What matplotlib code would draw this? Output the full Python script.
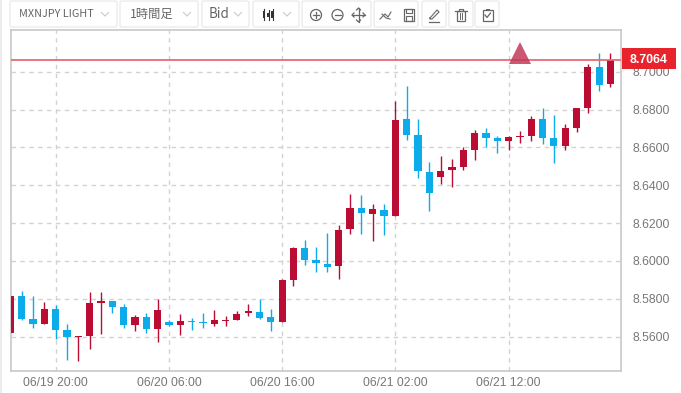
import matplotlib
matplotlib.use('Agg')
import matplotlib.pyplot as plt
from matplotlib.patches import FancyBboxPatch, Rectangle, Circle

# candle values (06/19 16:00 onwards, hourly)
opens = [8.5618, 8.5816, 8.5695, 8.5667, 8.5746, 8.5633, 8.5597, 8.5602, 8.5778, 8.5786,
         8.5755, 8.5663, 8.5705, 8.5638, 8.5679, 8.5661, 8.5685, 8.5676, 8.5665, 8.5683,
         8.5690, 8.5725, 8.5732, 8.5702, 8.5677, 8.5898, 8.6068, 8.6005, 8.5986, 8.5972,
         8.6167, 8.6282, 8.6249, 8.6270, 8.6239, 8.6749, 8.6665, 8.6469, 8.6444, 8.6480,
         8.6497, 8.6586, 8.6678, 8.6650, 8.6632, 8.6655, 8.6660, 8.6750, 8.6650, 8.6607,
         8.6704, 8.6807, 8.7025, 8.6933]
closes = [8.5816, 8.5695, 8.5667, 8.5746, 8.5633, 8.5598, 8.5602, 8.5778, 8.5787, 8.5759,
          8.5663, 8.5705, 8.5640, 8.5739, 8.5661, 8.5685, 8.5678, 8.5670, 8.5687, 8.5690,
          8.5721, 8.5733, 8.5700, 8.5676, 8.5898, 8.6070, 8.6004, 8.5988, 8.5967, 8.6163,
          8.6282, 8.6251, 8.6272, 8.6240, 8.6747, 8.6665, 8.6473, 8.6357, 8.6474, 8.6497,
          8.6584, 8.6678, 8.6651, 8.6634, 8.6655, 8.6660, 8.6750, 8.6651, 8.6609, 8.6703,
          8.6807, 8.7023, 8.6931, 8.7065]
highs = [8.5816, 8.5843, 8.5813, 8.5784, 8.5768, 8.5669, 8.5602, 8.5836, 8.5836, 8.5789,
         8.5773, 8.5712, 8.5723, 8.5800, 8.5687, 8.5719, 8.5696, 8.5724, 8.5741, 8.5707,
         8.5733, 8.5774, 8.5798, 8.5744, 8.5905, 8.6075, 8.6111, 8.6075, 8.6149, 8.6191,
         8.6353, 8.6347, 8.6302, 8.6302, 8.6848, 8.6924, 8.6749, 8.6522, 8.6556, 8.6540,
         8.6602, 8.6692, 8.6703, 8.6660, 8.6660, 8.6687, 8.6766, 8.6809, 8.6773, 8.6724,
         8.6807, 8.7042, 8.7101, 8.7101]
lows = [8.5618, 8.5690, 8.5647, 8.5667, 8.5588, 8.5474, 8.5469, 8.5534, 8.5613, 8.5726,
        8.5647, 8.5629, 8.5620, 8.5570, 8.5658, 8.5606, 8.5634, 8.5647, 8.5658, 8.5656,
        8.5690, 8.5709, 8.5693, 8.5630, 8.5677, 8.5867, 8.5977, 8.5942, 8.5942, 8.5902,
        8.6140, 8.6140, 8.6105, 8.6135, 8.6239, 8.6639, 8.6441, 8.6265, 8.6405, 8.6393,
        8.6481, 8.6533, 8.6604, 8.6573, 8.6586, 8.6621, 8.6632, 8.6616, 8.6520, 8.6586,
        8.6683, 8.6781, 8.6901, 8.6919]
candle_x = list(range(-4, 50))

y_ticks = [8.56, 8.58, 8.60, 8.62, 8.64, 8.66, 8.68, 8.70]
x_ticks = [0, 10, 20, 30, 40]
x_labels = ['06/19 20:00', '06/20 06:00', '06/20 16:00', '06/21 02:00', '06/21 12:00']
last_price = 8.7064
marker_x = 41
marker_price = 8.7102

W, H = 681, 393
RED = '#bb0c34'
BLUE = '#0cabe9'
GRID = '#d2d2d2'
FRAME = '#c8c8c8'
LABEL = '#777777'

fig = plt.figure(figsize=(W / 100, H / 100), dpi=100, facecolor='white')

# main chart
ax = fig.add_axes([11 / W, 1 - 371 / H, 610 / W, 341 / H])
ax.set_xlim(-3.95, 49.93)
ax.set_ylim(8.5418, 8.7221)
for s in ax.spines.values():
    s.set_color(FRAME)
    s.set_linewidth(1.2)

ax.set_axisbelow(True)
ax.grid(True, color=GRID, linestyle=(0, (3.2, 3.2)), linewidth=1)
ax.yaxis.tick_right()
ax.set_yticks(y_ticks, [f'{v:.4f}' for v in y_ticks])
ax.set_xticks(x_ticks, x_labels)
ax.tick_params(axis='y', length=0, pad=8.5, labelsize=8.7, labelcolor=LABEL)
ax.tick_params(axis='x', length=0, pad=4.5, labelsize=8.7, labelcolor=LABEL)
for t in ax.get_xticklabels() + ax.get_yticklabels():
    t.set_fontfamily('Liberation Sans')

# candles: red rising, blue falling
colors = [RED if c >= o else BLUE for o, c in zip(opens, closes)]
ax.vlines(candle_x, lows, highs, colors=colors, linewidth=1.0, zorder=3)
bottoms = [min(o, c) for o, c in zip(opens, closes)]
heights = [abs(c - o) for o, c in zip(opens, closes)]
ax.bar(candle_x, heights, bottom=bottoms, width=0.64, color=colors, zorder=4)

ax.axhline(last_price, color='#ea6a73', linewidth=1.3, zorder=5)
ax.plot([marker_x], [marker_price], marker='^', markersize=15.5, color='#c23a5a',
        alpha=0.85, markeredgewidth=0, linestyle='none', zorder=6)

# overlay in pixel coordinates for toolbar and price tag
ov = fig.add_axes([0, 0, 1, 1], zorder=10)
ov.set_xlim(0, W)
ov.set_ylim(H, 0)
ov.axis('off')
ov.patch.set_alpha(0)

ov.add_patch(Rectangle((0, 0), 1.5, H, facecolor='#ececec', edgecolor='none'))

ov.add_patch(Rectangle((622, 48), 53.5, 21, facecolor='#e8232c', edgecolor='none'))
ov.text(649, 58.5, f'{last_price:.4f}', color='white', fontsize=8.9, fontweight='bold',
        family='Liberation Sans', ha='center', va='center_baseline')

buttons = [(10, 117), (120, 198), (202, 249), (253, 299), (302, 371), (374, 418),
           (422, 446), (449, 473), (475, 499)]
for x0, x1 in buttons:
    ov.add_patch(FancyBboxPatch((x0 + 2, 3), x1 - x0 - 4, 22, boxstyle='round,pad=2',
                                facecolor='white', edgecolor='#ebebeb', linewidth=1))

TXT = '#666666'
ICON = '#666666'
jp = ['Noto Sans CJK JP', 'DejaVu Sans']
ov.text(19, 14, 'MXNJPY LIGHT', color=TXT, fontsize=7.8, family=jp, ha='left', va='center')
ov.text(130, 14, '1時間足', color=TXT, fontsize=8.8, family=jp, ha='left', va='center')
ov.text(208.5, 14, 'Bid', color=TXT, fontsize=9.6, family=jp, ha='left', va='center')


def chevron(x):
    ov.plot([x - 3.5, x, x + 3.5], [12.5, 16, 12.5], color='#cfcfcf', linewidth=0.9)


for cx in [105, 187, 238, 287]:
    chevron(cx)

# candlestick icon
for cx, y0, y1, b0, b1 in [(264, 9, 20, 11, 18), (268.5, 9.5, 20, 12.5, 17), (272.5, 8.5, 20, 10.5, 17.5)]:
    ov.plot([cx, cx], [y0, y1], color='#333333', linewidth=0.8)
    ov.add_patch(Rectangle((cx - 1.2, b0), 2.4, b1 - b0, facecolor='#333333', edgecolor='none'))

# zoom in, zoom out, move
for cx in (316, 337.5):
    ov.add_patch(Circle((cx, 15), 5.5, facecolor='none', edgecolor=ICON, linewidth=0.9))
    ov.plot([cx - 3, cx + 3], [15, 15], color=ICON, linewidth=0.9)
ov.plot([316, 316], [12, 18], color=ICON, linewidth=0.9)
ov.plot([358.5, 358.5], [8, 22], color=ICON, linewidth=0.9)
ov.plot([352, 365], [15, 15], color=ICON, linewidth=0.9)
ov.plot([356.5, 358.5, 360.5], [10, 8, 10], color=ICON, linewidth=0.9)
ov.plot([356.5, 358.5, 360.5], [20, 22, 20], color=ICON, linewidth=0.9)
ov.plot([354, 352, 354], [13, 15, 17], color=ICON, linewidth=0.9)
ov.plot([363, 365, 363], [13, 15, 17], color=ICON, linewidth=0.9)

# trend line icon
ov.plot([380, 385, 388, 391], [19, 14, 17, 12], color=ICON, linewidth=0.8)
ov.plot([382, 386, 390], [14, 18, 19], color=ICON, linewidth=0.8)

# save icon
ov.add_patch(Rectangle((403.5, 9), 10, 12, facecolor='none', edgecolor=ICON, linewidth=0.9))
ov.add_patch(Rectangle((405.5, 9), 6, 4, facecolor='none', edgecolor=ICON, linewidth=0.8))
ov.add_patch(Rectangle((405.5, 16), 6, 5, facecolor='none', edgecolor=ICON, linewidth=0.8))

# pencil icon
ov.plot([430, 437, 439, 432, 430, 430], [18, 10, 12, 19, 19, 18], color=ICON, linewidth=0.8)
ov.plot([429, 439], [21.5, 21.5], color=ICON, linewidth=0.9)

# trash icon
ov.add_patch(Rectangle((457, 11), 8, 10, facecolor='none', edgecolor=ICON, linewidth=0.9))
ov.plot([455, 467], [10.5, 10.5], color=ICON, linewidth=0.9)
ov.plot([459, 459, 463, 463], [10, 8.5, 8.5, 10], color=ICON, linewidth=0.8)
ov.plot([459.7, 459.7], [13, 19], color=ICON, linewidth=0.7)
ov.plot([462.3, 462.3], [13, 19], color=ICON, linewidth=0.7)

# clipboard icon
ov.add_patch(Rectangle((483, 10), 9.5, 11, facecolor='none', edgecolor=ICON, linewidth=0.9))
ov.add_patch(Rectangle((485.5, 8.5), 4.5, 2.5, facecolor=ICON, edgecolor='none'))
ov.plot([485, 487, 490.5], [15, 17.5, 13], color=ICON, linewidth=0.9)

fig.savefig('out.png', dpi=100)
